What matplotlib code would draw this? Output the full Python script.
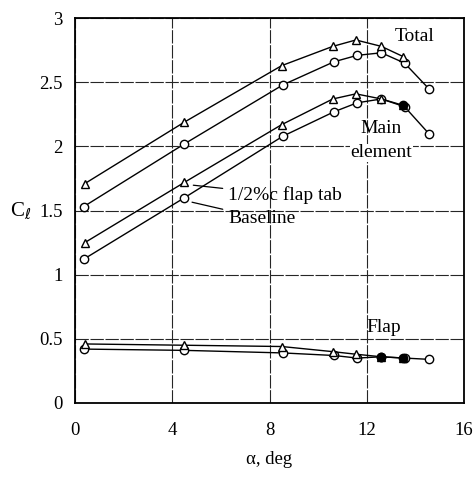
import numpy as np
import matplotlib
matplotlib.use('Agg')
from matplotlib import pyplot as plt

plt.rcParams['font.family'] = ['Liberation Serif', 'DejaVu Serif']

# baseline (circles)
base_alpha = [0.35, 4.5, 8.55, 10.65, 11.6, 12.6, 13.55, 14.55]
base_total = [1.53, 2.02, 2.48, 2.66, 2.71, 2.73, 2.65, 2.45]
base_main = [1.12, 1.60, 2.08, 2.27, 2.34, 2.37, 2.31, 2.10]
base_flap = [0.42, 0.41, 0.39, 0.37, 0.35, 0.36, 0.35, 0.34]

# 1/2%c flap tab (triangles)
tab_alpha = [0.4, 4.5, 8.5, 10.6, 11.55, 12.6, 13.5]
tab_total = [1.71, 2.19, 2.63, 2.78, 2.83, 2.78, 2.70]
tab_main = [1.25, 1.72, 2.17, 2.37, 2.41, 2.37, 2.32]
tab_flap = [0.46, 0.45, 0.44, 0.40, 0.38, 0.36, 0.35]

fig = plt.figure(figsize=(4.75, 4.78), dpi=100)
ax = fig.add_axes([0.158, 0.157, 0.819, 0.805])

mk = dict(color='black', lw=1.0, ms=6, mew=1.0, mfc='white')
ax.plot(base_alpha, base_total, marker='o', **mk)
ax.plot(base_alpha, base_main, marker='o', **mk)
ax.plot(base_alpha, base_flap, marker='o', **mk)
ax.plot(tab_alpha, tab_total, marker='^', **mk)
ax.plot(tab_alpha, tab_main, marker='^', **mk)
ax.plot(tab_alpha, tab_flap, marker='^', **mk)
# overlapping points appear solid in the original
ax.plot(tab_alpha[-1:], tab_main[-1:], 'o', color='black', ms=6)
ax.plot(tab_alpha[-2:], tab_flap[-2:], 'o', color='black', ms=6)

ax.set_xlim(0, 16)
ax.set_ylim(0, 3)
ax.set_xticks([0, 4, 8, 12, 16])
ax.set_yticks([0, 0.5, 1, 1.5, 2, 2.5, 3])
ax.set_yticklabels(['0', '0.5', '1', '1.5', '2', '2.5', '3'])
ax.tick_params(length=0, labelsize=13.5, pad=9)
ax.tick_params(axis='x', pad=14)
ax.grid(True, color='0.15', lw=0.8, ls=(0, (12, 1.5)))
for s in ax.spines.values():
    s.set_linewidth(1.3)

ax.set_xlabel('α, deg', fontsize=13.5, labelpad=8)
fig.text(10 / 475, 1 - 211 / 478, r'C$_\ell$', fontsize=15, va='center')

fs = 14
ax.text(13.15, 2.86, 'Total', fontsize=fs, va='center')
ax.text(12.6, 2.14, 'Main', fontsize=fs, ha='center', va='center')
ax.text(12.6, 1.95, 'element', fontsize=fs, ha='center', va='center',
        bbox=dict(fc='white', ec='none', pad=0.5))
ax.text(12.7, 0.59, 'Flap', fontsize=fs, ha='center', va='center')

ax.annotate('1/2%c flap tab', xy=(4.75, 1.70), xytext=(6.3, 1.62),
            fontsize=fs, va='center',
            arrowprops=dict(arrowstyle='-', color='black', lw=0.9, shrinkA=2, shrinkB=2))
ax.annotate('Baseline', xy=(4.7, 1.57), xytext=(6.3, 1.44),
            fontsize=fs, va='center',
            arrowprops=dict(arrowstyle='-', color='black', lw=0.9, shrinkA=2, shrinkB=2))

fig.savefig('out.png', dpi=100)
